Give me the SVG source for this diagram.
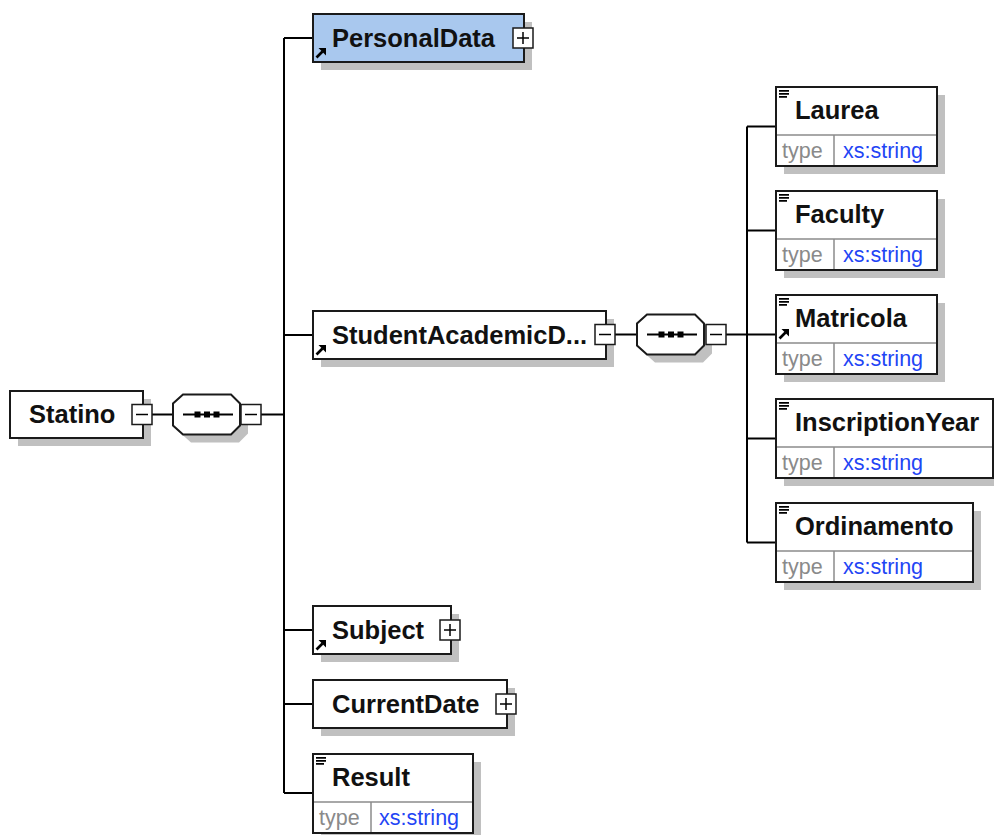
<svg xmlns="http://www.w3.org/2000/svg" xmlns:xlink="http://www.w3.org/1999/xlink" width="994" height="835" viewBox="0 0 994 835">
  <style>
    .box { fill: #ffffff; stroke: #1a1a1a; stroke-width: 2; }
    .box-ref { fill: #a9c8ee; stroke: #1a1a1a; stroke-width: 2; }
    .shadow { fill: #c0c0c0; stroke: none; }
    .grid { stroke: #8c8c8c; stroke-width: 1.5; fill: none; }
    .label { font-family: "Liberation Sans", Arial, sans-serif; font-weight: bold; font-size: 25.5px; fill: #111111; }
    .tkey { font-family: "Liberation Sans", Arial, sans-serif; font-size: 21.5px; fill: #8a8a8a; }
    .tval { font-family: "Liberation Sans", Arial, sans-serif; font-size: 21.5px; fill: #1f45f5; }
    .wire { stroke: #000000; stroke-width: 2; fill: none; }
    .seq { fill: #ffffff; stroke: #1a1a1a; stroke-width: 2; }
  </style>
  <defs>
    <!-- collapse / expand buttons -->
    <g id="btnMinus">
      <rect x="0" y="0" width="20" height="20" fill="#ffffff" stroke="#1a1a1a" stroke-width="1.5"/>
      <path d="M4 10 H16" stroke="#000" stroke-width="1.5"/>
    </g>
    <g id="btnPlus">
      <rect x="0" y="0" width="20" height="20" fill="#ffffff" stroke="#1a1a1a" stroke-width="1.5"/>
      <path d="M4 10 H16 M10 4 V16" stroke="#000" stroke-width="1.5"/>
    </g>
    <!-- reference arrow (bottom-left corner) -->
    <g id="refArrow">
      <path d="M0.5 9.5 L6.5 3.5" stroke="#000" stroke-width="2.6"/>
      <path d="M2.5 0 L10 0 L10 7.5 Z" fill="#000"/>
    </g>
    <!-- simple-content marker (top-left corner) -->
    <g id="listIcon">
      <path d="M0 0.8 H10 M0 3.8 H10 M0 6.8 H8" stroke="#000" stroke-width="1.7"/>
    </g>
    <!-- sequence compositor body -->
    <g id="seqBody">
      <polygon class="shadow" points="18,8 66,8 75,17 75,39 66,48 18,48 8,39 8,17"/>
      <polygon class="seq" points="10,0 58,0 67,9 67,31 58,40 10,40 0,31 0,9"/>
      <path d="M10 20 H60" stroke="#000" stroke-width="2"/>
      <rect x="21.5" y="17" width="6" height="6" fill="#000"/>
      <rect x="31" y="17" width="6" height="6" fill="#000"/>
      <rect x="40.5" y="17" width="6" height="6" fill="#000"/>
    </g>
  </defs>

  <rect x="0" y="0" width="994" height="835" fill="#ffffff"/>

  <!-- connectors -->
  <g id="connectors">
    <path class="wire" d="M152 414.5 H173"/>
    <path class="wire" d="M261 414.5 H284"/>
    <path class="wire" d="M284 38 V793"/>
    <path class="wire" d="M284 38 H313"/>
    <path class="wire" d="M284 335 H313"/>
    <path class="wire" d="M284 630 H313"/>
    <path class="wire" d="M284 704 H313"/>
    <path class="wire" d="M284 793 H313"/>
    <path class="wire" d="M615 334.5 H637"/>
    <path class="wire" d="M726 334.5 H747"/>
    <path class="wire" d="M747 126.5 V542.5"/>
    <path class="wire" d="M747 126.5 H776"/>
    <path class="wire" d="M747 230.5 H776"/>
    <path class="wire" d="M747 334.5 H776"/>
    <path class="wire" d="M747 438.5 H776"/>
    <path class="wire" d="M747 542.5 H776"/>
  </g>

  <!-- root element -->
  <g id="node-statino">
    <rect class="shadow" x="18" y="399" width="133" height="47"/>
    <rect class="box" x="10" y="391" width="133" height="47"/>
    <text class="label" x="29" y="423">Statino</text>
    <use xlink:href="#btnMinus" x="132" y="404.5"/>
  </g>

  <g id="seq-statino">
    <use xlink:href="#seqBody" x="173" y="394.5"/>
    <use xlink:href="#btnMinus" x="241" y="404.5"/>
  </g>

  <g id="node-personaldata">
    <rect class="shadow" x="321" y="22" width="211" height="48"/>
    <rect class="box-ref" x="313" y="14" width="211" height="48"/>
    <text class="label" x="332" y="47">PersonalData</text>
    <use xlink:href="#refArrow" x="316" y="48"/>
    <use xlink:href="#btnPlus" x="513" y="28"/>
  </g>

  <g id="node-studentacademic">
    <rect class="shadow" x="321" y="319" width="293" height="48"/>
    <rect class="box" x="313" y="311" width="293" height="48"/>
    <text class="label" x="332" y="344">StudentAcademicD...</text>
    <use xlink:href="#refArrow" x="316" y="345"/>
    <use xlink:href="#btnMinus" x="595" y="324.5"/>
  </g>

  <g id="seq-studentacademic">
    <use xlink:href="#seqBody" x="637" y="314.5"/>
    <use xlink:href="#btnMinus" x="706" y="324.5"/>
  </g>

  <g id="node-subject">
    <rect class="shadow" x="321" y="614" width="138" height="48"/>
    <rect class="box" x="313" y="606" width="138" height="48"/>
    <text class="label" x="332" y="639">Subject</text>
    <use xlink:href="#refArrow" x="316" y="640"/>
    <use xlink:href="#btnPlus" x="440" y="620"/>
  </g>

  <g id="node-currentdate">
    <rect class="shadow" x="321" y="688" width="194" height="48"/>
    <rect class="box" x="313" y="680" width="194" height="48"/>
    <text class="label" x="332" y="713">CurrentDate</text>
    <use xlink:href="#btnPlus" x="496" y="694"/>
  </g>

  <g id="node-result">
    <rect class="shadow" x="321" y="762" width="160" height="79"/>
    <rect class="box" x="313" y="754" width="160" height="79"/>
    <path class="grid" d="M314 802 H472 M371 802 V832"/>
    <use xlink:href="#listIcon" x="316" y="757"/>
    <text class="label" x="332" y="786">Result</text>
    <text class="tkey" x="319" y="825">type</text>
    <text class="tval" x="379" y="825">xs:string</text>
  </g>

  <g id="node-laurea">
    <rect class="shadow" x="784" y="95" width="161" height="79"/>
    <rect class="box" x="776" y="87" width="161" height="79"/>
    <path class="grid" d="M777 135 H936 M834 135 V165"/>
    <use xlink:href="#listIcon" x="779" y="90"/>
    <text class="label" x="795" y="119">Laurea</text>
    <text class="tkey" x="782" y="158">type</text>
    <text class="tval" x="843" y="158">xs:string</text>
  </g>

  <g id="node-faculty">
    <rect class="shadow" x="784" y="199" width="161" height="79"/>
    <rect class="box" x="776" y="191" width="161" height="79"/>
    <path class="grid" d="M777 239 H936 M834 239 V269"/>
    <use xlink:href="#listIcon" x="779" y="194"/>
    <text class="label" x="795" y="223">Faculty</text>
    <text class="tkey" x="782" y="262">type</text>
    <text class="tval" x="843" y="262">xs:string</text>
  </g>

  <g id="node-matricola">
    <rect class="shadow" x="784" y="303" width="161" height="79"/>
    <rect class="box" x="776" y="295" width="161" height="79"/>
    <path class="grid" d="M777 343 H936 M834 343 V373"/>
    <use xlink:href="#listIcon" x="779" y="298"/>
    <use xlink:href="#refArrow" x="779" y="329"/>
    <text class="label" x="795" y="327">Matricola</text>
    <text class="tkey" x="782" y="366">type</text>
    <text class="tval" x="843" y="366">xs:string</text>
  </g>

  <g id="node-inscriptionyear">
    <rect class="shadow" x="784" y="407" width="217" height="79"/>
    <rect class="box" x="776" y="399" width="217" height="79"/>
    <path class="grid" d="M777 447 H992 M834 447 V477"/>
    <use xlink:href="#listIcon" x="779" y="402"/>
    <text class="label" x="795" y="431">InscriptionYear</text>
    <text class="tkey" x="782" y="470">type</text>
    <text class="tval" x="843" y="470">xs:string</text>
  </g>

  <g id="node-ordinamento">
    <rect class="shadow" x="784" y="511" width="197" height="79"/>
    <rect class="box" x="776" y="503" width="197" height="79"/>
    <path class="grid" d="M777 551 H972 M834 551 V581"/>
    <use xlink:href="#listIcon" x="779" y="506"/>
    <text class="label" x="795" y="535">Ordinamento</text>
    <text class="tkey" x="782" y="574">type</text>
    <text class="tval" x="843" y="574">xs:string</text>
  </g>
</svg>
